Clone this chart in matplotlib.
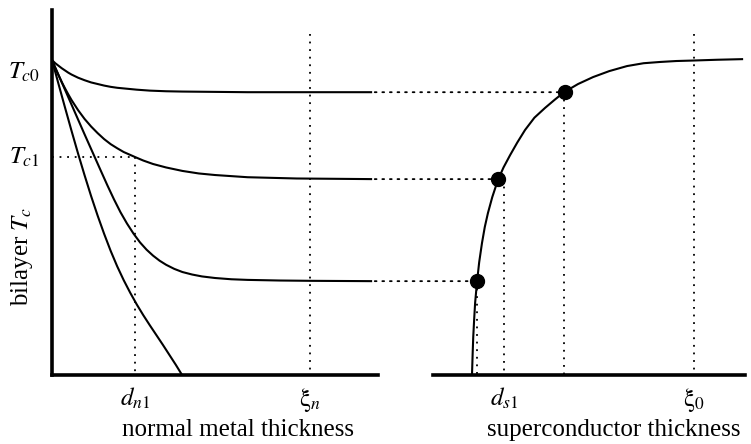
import matplotlib
matplotlib.use("Agg")
import matplotlib.pyplot as plt
from matplotlib.patches import ConnectionPatch

plt.rcParams["font.family"] = ["Liberation Serif", "DejaVu Serif"]
plt.rcParams["mathtext.fontset"] = "stix"

# ---- normal-metal side: bilayer Tc (% of Tc0) vs normal metal thickness (arb. units)
dn_curve1 = [0, 1, 2, 3, 4, 5, 6, 7, 8, 10, 12, 14, 16, 18, 20, 23, 26, 30, 35, 40, 50, 60, 98.2]
tc_curve1 = [100, 99.0, 98.2, 97.4, 96.7, 96.0, 95.4, 94.9, 94.4, 93.6, 92.9, 92.4, 91.9,
             91.5, 91.2, 90.9, 90.6, 90.3, 90.1, 90.0, 89.9, 89.8, 89.8]

dn_curve2 = [0, 1, 2, 3, 4, 5, 6, 8, 10, 12, 14, 16, 18, 20, 22, 25.5, 28, 31, 35, 40,
             45, 50, 60, 75, 98.2]
tc_curve2 = [100, 97.5, 95.2, 93.0, 91.0, 89.1, 87.3, 84.1, 81.3, 78.9, 76.8, 74.9, 73.3,
             72.0, 70.8, 69.2, 68.1, 67.0, 65.9, 64.8, 64.0, 63.5, 62.8, 62.4, 62.2]

dn_curve3 = [0, 2.5, 5, 7.5, 10, 12.5, 15, 17, 19, 21, 23, 25, 27, 29, 31, 33, 35, 37.5,
             40, 43, 46, 50, 55, 60, 70, 80, 98.2]
tc_curve3 = [100, 94.1, 88.2, 82.3, 76.4, 70.6, 64.8, 60.2, 55.8, 51.7, 48.1, 44.9, 42.1,
             39.8, 37.9, 36.3, 35.0, 33.7, 32.7, 31.9, 31.3, 30.8, 30.4, 30.2, 30.0, 29.9, 29.8]

dn_curve4 = [0, 2, 4, 6, 8, 10, 12, 14, 16, 18, 20, 22, 24, 26, 28, 30, 32, 34, 36, 38, 39.9]
tc_curve4 = [100, 92.4, 84.9, 77.5, 70.3, 63.4, 56.8, 50.6, 44.8, 39.4, 34.5, 30.1, 26.1,
             22.4, 19.0, 15.8, 12.7, 9.6, 6.4, 3.2, 0.0]

# ---- superconductor side: Tc vs superconductor thickness (arb. units)
ds_curve = [12.5, 12.7, 12.9, 13.2, 13.5, 14.1, 14.8, 15.7, 16.6, 17.6, 19.0, 20.8, 22.6,
            24.7, 27.0, 29.5, 32.5, 35.9, 39.0, 42.0, 46.5, 51.3, 56.5, 62.2, 67.5, 72.8,
            78.0, 83.3, 91.0, 99.4]
tc_scurve = [0, 6.5, 12.1, 17.8, 22.9, 29.5, 35.8, 41.9, 47.0, 51.4, 56.5, 61.9, 65.9,
             69.8, 73.8, 77.8, 81.7, 84.8, 87.4, 89.8, 92.4, 94.6, 96.5, 98.1, 99.0, 99.4,
             99.7, 99.85, 100.1, 100.3]

# operating points on the superconductor curve (match the three plateaus)
ds_points = [42.2, 20.8, 14.1]
tc_points = [89.8, 62.2, 29.8]
ds_drops = [42.0, 22.8, 14.1]

# reference values
TC0 = 100
TC1 = 69.2
DN1 = 25.5
XI_N = 79.1
DS1 = 22.8
XI_0 = 83.5
XI_TOP = 108.3

YMAX = 115.9
FS = 18

fig = plt.figure(figsize=(7.51, 4.44), dpi=100)
axL = fig.add_axes([52 / 751, 69 / 444, 326 / 751, 365 / 444])
axR = fig.add_axes([433 / 751, 69 / 444, 312 / 751, 365 / 444])

curve_kw = dict(color="black", lw=1.5, solid_capstyle="butt")
dot_kw = dict(color="black", lw=1.3, linestyle=(0, (1, 3.2)))

for x, y in [(dn_curve1, tc_curve1), (dn_curve2, tc_curve2),
             (dn_curve3, tc_curve3), (dn_curve4, tc_curve4)]:
    axL.plot(x, y, **curve_kw)

axL.plot([0, DN1], [TC1, TC1], **dot_kw)
axL.plot([DN1, DN1], [TC1, 0], **dot_kw)
axL.plot([XI_N, XI_N], [XI_TOP, 0], **dot_kw)

axR.plot(ds_curve, tc_scurve, **curve_kw)
axR.plot(ds_points, tc_points, "o", color="black", ms=10, zorder=5)
for xd, yd in zip(ds_drops, tc_points):
    axR.plot([xd, xd], [yd, 0], **dot_kw)
axR.plot([XI_0, XI_0], [XI_TOP, 0], **dot_kw)

# dotted links from each plateau across the gap to its operating point
for xp, yp in zip(ds_points, tc_points):
    con = ConnectionPatch(xyA=(99.0, yp), coordsA=axL.transData,
                          xyB=(xp, yp), coordsB=axR.transData,
                          color="black", lw=1.3, linestyle=(0, (1, 3.2)))
    fig.add_artist(con)

for ax in (axL, axR):
    ax.set_xlim(0, 100)
    ax.set_ylim(0, YMAX)
    ax.spines["top"].set_visible(False)
    ax.spines["right"].set_visible(False)
    ax.spines["bottom"].set_linewidth(2.6)
    ax.spines["left"].set_linewidth(2.6)
    ax.tick_params(length=0, labelsize=FS, pad=8)
axR.spines["left"].set_visible(False)

axL.set_xticks([DN1, XI_N])
axL.set_xticklabels([r"$d_{n1}$", r"$\mathrm{\xi}_n$"])
axR.set_xticks([DS1, XI_0])
axR.set_xticklabels([r"$d_{s1}$", r"$\mathrm{\xi}_0$"])
axL.set_yticks([])
axR.set_yticks([])

# temperature labels on the vertical axis
axL.annotate(r"$T_{c0}$", xy=(0, TC0), xytext=(-9, -9), textcoords="offset points",
             ha="right", va="center", fontsize=FS, annotation_clip=False)
axL.annotate(r"$T_{c1}$", xy=(0, TC1), xytext=(-9, 0), textcoords="offset points",
             ha="right", va="center", fontsize=FS, annotation_clip=False)

# axis titles placed below the tick labels
axL.text(0.57, -0.167, "normal metal thickness", transform=axL.transAxes,
         ha="center", va="baseline", fontsize=FS)
axR.text(0.58, -0.167, "superconductor thickness", transform=axR.transAxes,
         ha="center", va="baseline", fontsize=FS)

fig.text(22 / 751, 1 - 256 / 444, r"bilayer $T_c$", rotation=90, fontsize=FS,
         ha="center", va="center")

fig.savefig("out.png", dpi=100)
